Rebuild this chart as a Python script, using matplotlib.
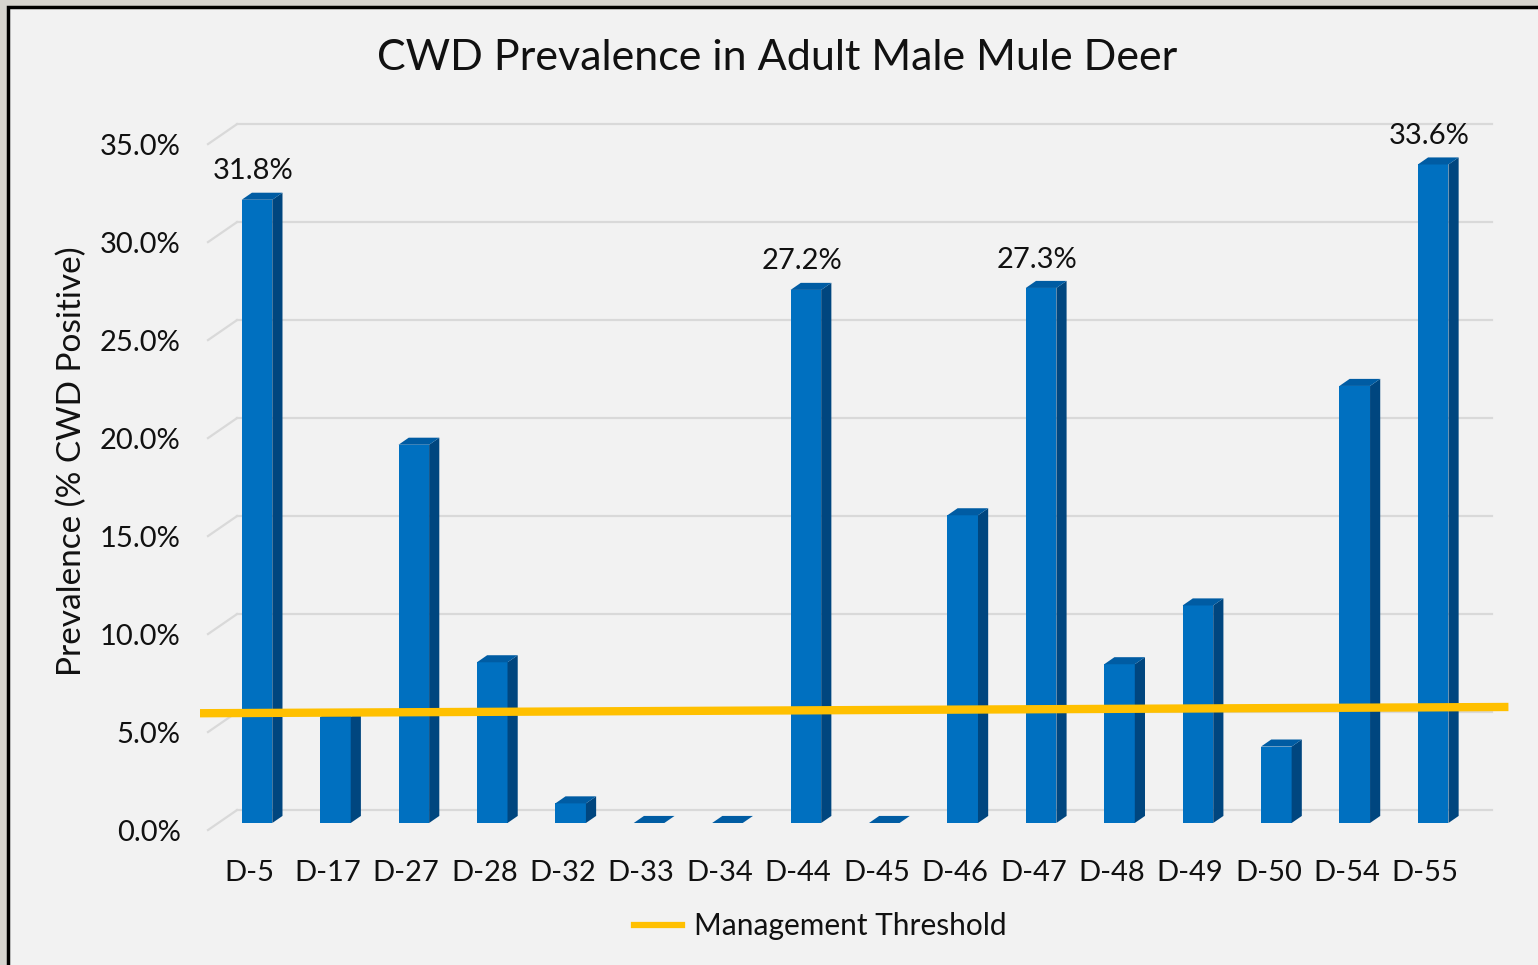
import matplotlib.pyplot as plt
from matplotlib.patches import Polygon, Rectangle
from matplotlib.lines import Line2D

plt.rcParams['font.family'] = ['Lato', 'DejaVu Sans']

units = ['D-5', 'D-17', 'D-27', 'D-28', 'D-32', 'D-33', 'D-34', 'D-44',
         'D-45', 'D-46', 'D-47', 'D-48', 'D-49', 'D-50', 'D-54', 'D-55']
prevalence = [31.8, 5.4, 19.3, 8.2, 1.0, 0.0, 0.0, 27.2,
              0.0, 15.7, 27.3, 8.1, 11.1, 3.9, 22.3, 33.6]
labeled = ['D-5', 'D-44', 'D-47', 'D-55']
y_ticks = [0, 5, 10, 15, 20, 25, 30, 35]
threshold = 5.0

# pseudo 3d geometry (data units)
bar_w = 0.39
dx, dy = 0.13, 0.36
floor_front, wall_off = -0.36, 0.66
wall_left, wall_right, front_left = -0.255, 15.75, -0.625

front_c = '#0070c0'
side_c = '#00467f'
top_c = '#005ca3'
grid_c = '#d9d9d9'
bg = '#f2f2f2'

fig = plt.figure(figsize=(15.38, 9.65), dpi=100)
fig.patch.set_facecolor('#d6d4cf')
fig.patches.append(Rectangle((8 / 1538, -0.05), 1.0, 1.05 - 7 / 965, transform=fig.transFigure,
                             facecolor=bg, edgecolor='black', linewidth=2.5, zorder=-10))

ax = fig.add_axes([200 / 1538, 115 / 965, 1310 / 1538, 740 / 965])
ax.set_facecolor('none')
ax.set_xlim(-0.727, 15.98)
ax.set_ylim(-1.378, 36.38)
for s in ax.spines.values():
    s.set_visible(False)

# back wall gridlines and left diagonals
for t in y_ticks:
    ax.plot([wall_left, wall_right], [t + wall_off, t + wall_off], color=grid_c, lw=1.6, zorder=1)
    ax.plot([front_left, wall_left], [t + floor_front, t + wall_off], color=grid_c, lw=1.6, zorder=1)

x = list(range(len(units)))
ax.bar(x, prevalence, width=bar_w, color=front_c, zorder=3)
for i, v in zip(x, prevalence):
    l, r = i - bar_w / 2, i + bar_w / 2
    ax.add_patch(Polygon([(r, 0), (r + dx, dy), (r + dx, v + dy), (r, v)],
                         closed=True, facecolor=side_c, edgecolor='none', zorder=3))
    ax.add_patch(Polygon([(l, v), (l + dx, v + dy), (r + dx, v + dy), (r, v)],
                         closed=True, facecolor=top_c, edgecolor='none', zorder=3))
    if units[i] in labeled:
        ax.text(i - 0.05, v + 1.45, f'{v:.1f}%', ha='center', va='center', fontsize=21, color='#111111')

ax.plot([-0.765, 15.96], [threshold + 0.6, threshold + 0.92], color='#ffc000', lw=6, zorder=5,
        solid_capstyle='butt')

ax.set_yticks([t + floor_front for t in y_ticks])
ax.set_yticklabels([f'{t:.1f}%' for t in y_ticks], fontsize=21, color='#111111')
ax.set_xticks([i - 0.1 for i in x])
ax.set_xticklabels(units, fontsize=21, color='#111111')
ax.tick_params(axis='y', length=0, pad=14)
ax.tick_params(axis='x', length=0, pad=7)

fig.text(72 / 1538, 1 - 461 / 965, 'Prevalence (% CWD Positive)', rotation=90, ha='center', va='center',
         fontsize=24, color='#111111')
fig.text(777 / 1538, 1 - 58 / 965, 'CWD Prevalence in Adult Male Mule Deer', ha='center', va='center',
         fontsize=31, color='#111111')

handle = Line2D([], [], color='#ffc000', lw=4.5)
fig.legend([handle], ['Management Threshold'], loc='center', bbox_to_anchor=(820 / 1538, 1 - 926 / 965),
           frameon=False, fontsize=21.5, handlelength=1.6, handletextpad=0.4, labelcolor='#111111')

fig.savefig('out.png', dpi=100, facecolor=fig.get_facecolor())
